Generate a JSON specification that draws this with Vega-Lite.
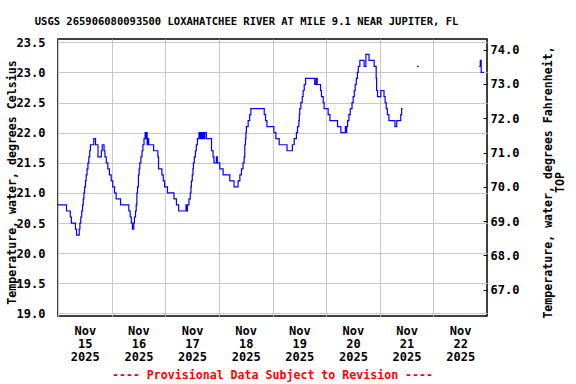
{
  "$schema": "https://vega.github.io/schema/vega-lite/v6.json",
  "width": 429,
  "height": 277,
  "autosize": {"type": "none"},
  "padding": {"left": 58, "top": 39, "right": 89, "bottom": 68},
  "background": "white",
  "config": {
    "font": "DejaVu Sans Mono",
    "view": {"stroke": "black", "strokeWidth": 1.5},
    "axis": {
      "labelFont": "DejaVu Sans Mono",
      "labelFontWeight": "bold",
      "labelFontSize": 12,
      "labelColor": "black",
      "titleFont": "DejaVu Sans Mono",
      "titleFontWeight": "bold",
      "titleFontSize": 11.6,
      "titleColor": "black",
      "gridColor": "#c8c8c8",
      "gridWidth": 1,
      "gridOpacity": 1,
      "domain": false
    }
  },
  "title": {
    "text": "USGS 265906080093500 LOXAHATCHEE RIVER AT MILE 9.1 NEAR JUPITER, FL",
    "font": "DejaVu Sans Mono",
    "fontSize": 10.5,
    "fontWeight": "bold",
    "color": "black",
    "anchor": "middle",
    "frame": "group",
    "dx": -26,
    "offset": 9
  },
  "datasets": {
    "temp": [
      {"time": "2025-11-15T00:00:00Z", "tempC": 20.8, "seg": "a"},
      {"time": "2025-11-15T03:48:00Z", "tempC": 20.7, "seg": "a"},
      {"time": "2025-11-15T05:30:00Z", "tempC": 20.6, "seg": "a"},
      {"time": "2025-11-15T06:00:00Z", "tempC": 20.5, "seg": "a"},
      {"time": "2025-11-15T07:48:00Z", "tempC": 20.4, "seg": "a"},
      {"time": "2025-11-15T08:18:00Z", "tempC": 20.3, "seg": "a"},
      {"time": "2025-11-15T09:30:00Z", "tempC": 20.4, "seg": "a"},
      {"time": "2025-11-15T09:48:00Z", "tempC": 20.5, "seg": "a"},
      {"time": "2025-11-15T10:12:00Z", "tempC": 20.6, "seg": "a"},
      {"time": "2025-11-15T10:36:00Z", "tempC": 20.7, "seg": "a"},
      {"time": "2025-11-15T11:00:00Z", "tempC": 20.8, "seg": "a"},
      {"time": "2025-11-15T11:18:00Z", "tempC": 20.9, "seg": "a"},
      {"time": "2025-11-15T11:36:00Z", "tempC": 21.0, "seg": "a"},
      {"time": "2025-11-15T11:54:00Z", "tempC": 21.1, "seg": "a"},
      {"time": "2025-11-15T12:18:00Z", "tempC": 21.2, "seg": "a"},
      {"time": "2025-11-15T12:36:00Z", "tempC": 21.3, "seg": "a"},
      {"time": "2025-11-15T13:00:00Z", "tempC": 21.4, "seg": "a"},
      {"time": "2025-11-15T13:24:00Z", "tempC": 21.5, "seg": "a"},
      {"time": "2025-11-15T13:48:00Z", "tempC": 21.6, "seg": "a"},
      {"time": "2025-11-15T14:12:00Z", "tempC": 21.7, "seg": "a"},
      {"time": "2025-11-15T14:30:00Z", "tempC": 21.8, "seg": "a"},
      {"time": "2025-11-15T16:00:00Z", "tempC": 21.9, "seg": "a"},
      {"time": "2025-11-15T16:48:00Z", "tempC": 21.8, "seg": "a"},
      {"time": "2025-11-15T17:54:00Z", "tempC": 21.6, "seg": "a"},
      {"time": "2025-11-15T19:24:00Z", "tempC": 21.7, "seg": "a"},
      {"time": "2025-11-15T19:48:00Z", "tempC": 21.8, "seg": "a"},
      {"time": "2025-11-15T20:36:00Z", "tempC": 21.7, "seg": "a"},
      {"time": "2025-11-15T21:00:00Z", "tempC": 21.6, "seg": "a"},
      {"time": "2025-11-15T21:36:00Z", "tempC": 21.5, "seg": "a"},
      {"time": "2025-11-15T22:18:00Z", "tempC": 21.4, "seg": "a"},
      {"time": "2025-11-15T23:00:00Z", "tempC": 21.3, "seg": "a"},
      {"time": "2025-11-15T23:48:00Z", "tempC": 21.2, "seg": "a"},
      {"time": "2025-11-16T00:30:00Z", "tempC": 21.1, "seg": "a"},
      {"time": "2025-11-16T01:18:00Z", "tempC": 21.0, "seg": "a"},
      {"time": "2025-11-16T02:00:00Z", "tempC": 20.9, "seg": "a"},
      {"time": "2025-11-16T04:00:00Z", "tempC": 20.8, "seg": "a"},
      {"time": "2025-11-16T07:42:00Z", "tempC": 20.7, "seg": "a"},
      {"time": "2025-11-16T08:18:00Z", "tempC": 20.6, "seg": "a"},
      {"time": "2025-11-16T08:48:00Z", "tempC": 20.5, "seg": "a"},
      {"time": "2025-11-16T09:18:00Z", "tempC": 20.4, "seg": "a"},
      {"time": "2025-11-16T09:54:00Z", "tempC": 20.5, "seg": "a"},
      {"time": "2025-11-16T10:12:00Z", "tempC": 20.6, "seg": "a"},
      {"time": "2025-11-16T10:42:00Z", "tempC": 20.7, "seg": "a"},
      {"time": "2025-11-16T11:00:00Z", "tempC": 20.8, "seg": "a"},
      {"time": "2025-11-16T11:18:00Z", "tempC": 21.0, "seg": "a"},
      {"time": "2025-11-16T11:36:00Z", "tempC": 21.1, "seg": "a"},
      {"time": "2025-11-16T12:00:00Z", "tempC": 21.3, "seg": "a"},
      {"time": "2025-11-16T12:18:00Z", "tempC": 21.4, "seg": "a"},
      {"time": "2025-11-16T12:36:00Z", "tempC": 21.5, "seg": "a"},
      {"time": "2025-11-16T13:06:00Z", "tempC": 21.6, "seg": "a"},
      {"time": "2025-11-16T13:36:00Z", "tempC": 21.7, "seg": "a"},
      {"time": "2025-11-16T14:00:00Z", "tempC": 21.8, "seg": "a"},
      {"time": "2025-11-16T14:30:00Z", "tempC": 21.9, "seg": "a"},
      {"time": "2025-11-16T15:00:00Z", "tempC": 22.0, "seg": "a"},
      {"time": "2025-11-16T15:18:00Z", "tempC": 21.9, "seg": "a"},
      {"time": "2025-11-16T15:36:00Z", "tempC": 22.0, "seg": "a"},
      {"time": "2025-11-16T15:54:00Z", "tempC": 21.8, "seg": "a"},
      {"time": "2025-11-16T16:12:00Z", "tempC": 21.9, "seg": "a"},
      {"time": "2025-11-16T16:36:00Z", "tempC": 21.8, "seg": "a"},
      {"time": "2025-11-16T18:48:00Z", "tempC": 21.7, "seg": "a"},
      {"time": "2025-11-16T20:42:00Z", "tempC": 21.6, "seg": "a"},
      {"time": "2025-11-16T21:00:00Z", "tempC": 21.4, "seg": "a"},
      {"time": "2025-11-16T22:30:00Z", "tempC": 21.3, "seg": "a"},
      {"time": "2025-11-16T23:06:00Z", "tempC": 21.2, "seg": "a"},
      {"time": "2025-11-16T23:42:00Z", "tempC": 21.1, "seg": "a"},
      {"time": "2025-11-17T01:00:00Z", "tempC": 21.0, "seg": "a"},
      {"time": "2025-11-17T03:54:00Z", "tempC": 20.9, "seg": "a"},
      {"time": "2025-11-17T05:00:00Z", "tempC": 20.8, "seg": "a"},
      {"time": "2025-11-17T06:00:00Z", "tempC": 20.7, "seg": "a"},
      {"time": "2025-11-17T09:18:00Z", "tempC": 20.8, "seg": "a"},
      {"time": "2025-11-17T09:36:00Z", "tempC": 20.7, "seg": "a"},
      {"time": "2025-11-17T09:54:00Z", "tempC": 20.8, "seg": "a"},
      {"time": "2025-11-17T10:36:00Z", "tempC": 20.9, "seg": "a"},
      {"time": "2025-11-17T11:12:00Z", "tempC": 21.0, "seg": "a"},
      {"time": "2025-11-17T11:30:00Z", "tempC": 21.1, "seg": "a"},
      {"time": "2025-11-17T11:42:00Z", "tempC": 21.2, "seg": "a"},
      {"time": "2025-11-17T12:06:00Z", "tempC": 21.3, "seg": "a"},
      {"time": "2025-11-17T12:24:00Z", "tempC": 21.4, "seg": "a"},
      {"time": "2025-11-17T12:36:00Z", "tempC": 21.5, "seg": "a"},
      {"time": "2025-11-17T13:00:00Z", "tempC": 21.6, "seg": "a"},
      {"time": "2025-11-17T13:30:00Z", "tempC": 21.7, "seg": "a"},
      {"time": "2025-11-17T13:54:00Z", "tempC": 21.8, "seg": "a"},
      {"time": "2025-11-17T14:24:00Z", "tempC": 21.9, "seg": "a"},
      {"time": "2025-11-17T15:06:00Z", "tempC": 22.0, "seg": "a"},
      {"time": "2025-11-17T15:30:00Z", "tempC": 21.9, "seg": "a"},
      {"time": "2025-11-17T15:54:00Z", "tempC": 22.0, "seg": "a"},
      {"time": "2025-11-17T16:24:00Z", "tempC": 21.9, "seg": "a"},
      {"time": "2025-11-17T16:54:00Z", "tempC": 22.0, "seg": "a"},
      {"time": "2025-11-17T17:24:00Z", "tempC": 21.9, "seg": "a"},
      {"time": "2025-11-17T17:42:00Z", "tempC": 22.0, "seg": "a"},
      {"time": "2025-11-17T18:24:00Z", "tempC": 21.9, "seg": "a"},
      {"time": "2025-11-17T20:42:00Z", "tempC": 21.7, "seg": "a"},
      {"time": "2025-11-17T21:24:00Z", "tempC": 21.6, "seg": "a"},
      {"time": "2025-11-17T21:48:00Z", "tempC": 21.5, "seg": "a"},
      {"time": "2025-11-17T22:54:00Z", "tempC": 21.6, "seg": "a"},
      {"time": "2025-11-17T23:18:00Z", "tempC": 21.5, "seg": "a"},
      {"time": "2025-11-18T00:24:00Z", "tempC": 21.4, "seg": "a"},
      {"time": "2025-11-18T01:54:00Z", "tempC": 21.3, "seg": "a"},
      {"time": "2025-11-18T04:54:00Z", "tempC": 21.2, "seg": "a"},
      {"time": "2025-11-18T06:48:00Z", "tempC": 21.1, "seg": "a"},
      {"time": "2025-11-18T08:36:00Z", "tempC": 21.2, "seg": "a"},
      {"time": "2025-11-18T09:24:00Z", "tempC": 21.3, "seg": "a"},
      {"time": "2025-11-18T10:06:00Z", "tempC": 21.4, "seg": "a"},
      {"time": "2025-11-18T10:48:00Z", "tempC": 21.5, "seg": "a"},
      {"time": "2025-11-18T11:18:00Z", "tempC": 21.6, "seg": "a"},
      {"time": "2025-11-18T11:36:00Z", "tempC": 21.8, "seg": "a"},
      {"time": "2025-11-18T11:54:00Z", "tempC": 21.9, "seg": "a"},
      {"time": "2025-11-18T12:06:00Z", "tempC": 22.0, "seg": "a"},
      {"time": "2025-11-18T12:18:00Z", "tempC": 22.1, "seg": "a"},
      {"time": "2025-11-18T13:06:00Z", "tempC": 22.2, "seg": "a"},
      {"time": "2025-11-18T13:48:00Z", "tempC": 22.3, "seg": "a"},
      {"time": "2025-11-18T14:18:00Z", "tempC": 22.4, "seg": "a"},
      {"time": "2025-11-18T20:18:00Z", "tempC": 22.3, "seg": "a"},
      {"time": "2025-11-18T20:54:00Z", "tempC": 22.2, "seg": "a"},
      {"time": "2025-11-18T21:30:00Z", "tempC": 22.1, "seg": "a"},
      {"time": "2025-11-19T00:36:00Z", "tempC": 22.0, "seg": "a"},
      {"time": "2025-11-19T01:30:00Z", "tempC": 21.9, "seg": "a"},
      {"time": "2025-11-19T03:00:00Z", "tempC": 21.8, "seg": "a"},
      {"time": "2025-11-19T06:30:00Z", "tempC": 21.7, "seg": "a"},
      {"time": "2025-11-19T08:54:00Z", "tempC": 21.8, "seg": "a"},
      {"time": "2025-11-19T09:42:00Z", "tempC": 21.9, "seg": "a"},
      {"time": "2025-11-19T10:42:00Z", "tempC": 22.0, "seg": "a"},
      {"time": "2025-11-19T11:12:00Z", "tempC": 22.1, "seg": "a"},
      {"time": "2025-11-19T11:48:00Z", "tempC": 22.2, "seg": "a"},
      {"time": "2025-11-19T12:00:00Z", "tempC": 22.3, "seg": "a"},
      {"time": "2025-11-19T12:12:00Z", "tempC": 22.4, "seg": "a"},
      {"time": "2025-11-19T12:42:00Z", "tempC": 22.5, "seg": "a"},
      {"time": "2025-11-19T13:18:00Z", "tempC": 22.6, "seg": "a"},
      {"time": "2025-11-19T13:42:00Z", "tempC": 22.7, "seg": "a"},
      {"time": "2025-11-19T14:12:00Z", "tempC": 22.8, "seg": "a"},
      {"time": "2025-11-19T14:48:00Z", "tempC": 22.9, "seg": "a"},
      {"time": "2025-11-19T18:54:00Z", "tempC": 22.8, "seg": "a"},
      {"time": "2025-11-19T19:30:00Z", "tempC": 22.9, "seg": "a"},
      {"time": "2025-11-19T20:00:00Z", "tempC": 22.8, "seg": "a"},
      {"time": "2025-11-19T21:30:00Z", "tempC": 22.7, "seg": "a"},
      {"time": "2025-11-19T21:54:00Z", "tempC": 22.6, "seg": "a"},
      {"time": "2025-11-19T22:42:00Z", "tempC": 22.5, "seg": "a"},
      {"time": "2025-11-19T23:06:00Z", "tempC": 22.4, "seg": "a"},
      {"time": "2025-11-20T00:54:00Z", "tempC": 22.3, "seg": "a"},
      {"time": "2025-11-20T01:42:00Z", "tempC": 22.2, "seg": "a"},
      {"time": "2025-11-20T05:06:00Z", "tempC": 22.1, "seg": "a"},
      {"time": "2025-11-20T06:36:00Z", "tempC": 22.0, "seg": "a"},
      {"time": "2025-11-20T08:36:00Z", "tempC": 22.1, "seg": "a"},
      {"time": "2025-11-20T08:54:00Z", "tempC": 22.0, "seg": "a"},
      {"time": "2025-11-20T09:12:00Z", "tempC": 22.1, "seg": "a"},
      {"time": "2025-11-20T09:36:00Z", "tempC": 22.2, "seg": "a"},
      {"time": "2025-11-20T10:12:00Z", "tempC": 22.3, "seg": "a"},
      {"time": "2025-11-20T10:48:00Z", "tempC": 22.4, "seg": "a"},
      {"time": "2025-11-20T11:36:00Z", "tempC": 22.5, "seg": "a"},
      {"time": "2025-11-20T12:06:00Z", "tempC": 22.6, "seg": "a"},
      {"time": "2025-11-20T12:36:00Z", "tempC": 22.7, "seg": "a"},
      {"time": "2025-11-20T13:00:00Z", "tempC": 22.8, "seg": "a"},
      {"time": "2025-11-20T13:30:00Z", "tempC": 22.9, "seg": "a"},
      {"time": "2025-11-20T14:00:00Z", "tempC": 23.0, "seg": "a"},
      {"time": "2025-11-20T14:24:00Z", "tempC": 23.1, "seg": "a"},
      {"time": "2025-11-20T15:06:00Z", "tempC": 23.2, "seg": "a"},
      {"time": "2025-11-20T17:00:00Z", "tempC": 23.1, "seg": "a"},
      {"time": "2025-11-20T17:48:00Z", "tempC": 23.3, "seg": "a"},
      {"time": "2025-11-20T19:12:00Z", "tempC": 23.2, "seg": "a"},
      {"time": "2025-11-20T21:30:00Z", "tempC": 23.1, "seg": "a"},
      {"time": "2025-11-20T22:24:00Z", "tempC": 22.9, "seg": "a"},
      {"time": "2025-11-20T22:36:00Z", "tempC": 22.7, "seg": "a"},
      {"time": "2025-11-20T23:00:00Z", "tempC": 22.6, "seg": "a"},
      {"time": "2025-11-21T00:30:00Z", "tempC": 22.7, "seg": "a"},
      {"time": "2025-11-21T01:54:00Z", "tempC": 22.6, "seg": "a"},
      {"time": "2025-11-21T02:24:00Z", "tempC": 22.5, "seg": "a"},
      {"time": "2025-11-21T02:54:00Z", "tempC": 22.4, "seg": "a"},
      {"time": "2025-11-21T03:24:00Z", "tempC": 22.3, "seg": "a"},
      {"time": "2025-11-21T04:06:00Z", "tempC": 22.2, "seg": "a"},
      {"time": "2025-11-21T06:48:00Z", "tempC": 22.1, "seg": "a"},
      {"time": "2025-11-21T07:36:00Z", "tempC": 22.2, "seg": "a"},
      {"time": "2025-11-21T09:24:00Z", "tempC": 22.3, "seg": "a"},
      {"time": "2025-11-21T09:48:00Z", "tempC": 22.4, "seg": "a"},
      {"time": "2025-11-21T10:12:00Z", "tempC": 22.4, "seg": "a"},
      {"time": "2025-11-21T16:42:00Z", "tempC": 23.1, "seg": "b"},
      {"time": "2025-11-21T17:24:00Z", "tempC": 23.1, "seg": "b"},
      {"time": "2025-11-22T20:30:00Z", "tempC": 23.1, "seg": "c"},
      {"time": "2025-11-22T21:00:00Z", "tempC": 23.2, "seg": "c"},
      {"time": "2025-11-22T21:24:00Z", "tempC": 23.0, "seg": "c"},
      {"time": "2025-11-22T22:36:00Z", "tempC": 23.0, "seg": "c"}
    ],
    "fdummy": [{"tempF": 70}]
  },
  "layer": [
    {
      "data": {"name": "temp"},
      "mark": {"type": "line", "interpolate": "step-after", "color": "#0000ff", "strokeWidth": 1.2, "clip": true},
      "encoding": {
        "x": {
          "field": "time",
          "type": "temporal",
          "scale": {"type": "utc", "domain": [{"year": 2025, "month": 11, "date": 15, "utc": true}, {"year": 2025, "month": 11, "date": 23, "utc": true}]},
          "axis": {
            "orient": "bottom",
            "values": [
              {"year": 2025, "month": 11, "date": 15, "utc": true},
              {"year": 2025, "month": 11, "date": 16, "utc": true},
              {"year": 2025, "month": 11, "date": 17, "utc": true},
              {"year": 2025, "month": 11, "date": 18, "utc": true},
              {"year": 2025, "month": 11, "date": 19, "utc": true},
              {"year": 2025, "month": 11, "date": 20, "utc": true},
              {"year": 2025, "month": 11, "date": 21, "utc": true},
              {"year": 2025, "month": 11, "date": 22, "utc": true}
            ],
            "labelExpr": "[utcFormat(datum.value, '%b'), utcFormat(datum.value, '%d'), utcFormat(datum.value, '%Y')]",
            "labelOffset": 26.8,
            "labelPadding": 9,
            "labelLineHeight": 13,
            "labelBaseline": "top",
            "labelAlign": "center",
            "labelOverlap": false,
            "labelBound": false,
            "labelFlush": false,
            "ticks": false,
            "grid": true,
            "title": "---- Provisional Data Subject to Revision ----",
            "titleColor": "#ff0000",
            "titleFontSize": 11.6,
            "titleX": 214,
            "titleY": 59,
            "titleBaseline": "middle",
            "titleAlign": "center"
          }
        },
        "y": {
          "field": "tempC",
          "type": "quantitative",
          "scale": {"domain": [18.957, 23.555], "nice": false, "zero": false},
          "axis": {
            "orient": "left",
            "values": [19, 19.5, 20, 20.5, 21, 21.5, 22, 22.5, 23, 23.5],
            "format": ".1f",
            "ticks": false,
            "labelPadding": 13,
            "grid": true,
            "title": "Temperature, water, degrees Celsius",
            "titleAngle": 270,
            "titleX": -46,
            "titleY": 143,
            "titleBaseline": "middle",
            "titleAlign": "center"
          }
        },
        "detail": {"field": "seg", "type": "nominal"}
      }
    },
    {
      "data": {"name": "fdummy"},
      "mark": {"type": "point", "opacity": 0},
      "encoding": {
        "y": {
          "field": "tempF",
          "type": "quantitative",
          "scale": {"domain": [66.233, 74.312], "nice": false, "zero": false},
          "axis": {
            "orient": "right",
            "values": [67, 68, 69, 70, 71, 72, 73, 74],
            "format": ".1f",
            "grid": false,
            "ticks": true,
            "tickSize": -4,
            "tickColor": "black",
            "tickWidth": 1,
            "labelPadding": 7,
            "title": ["Temperature, water, degrees Fahrenheit,", "TOP"],
            "titleAngle": 270,
            "titleX": 61,
            "titleY": 143,
            "titleBaseline": "middle",
            "titleAlign": "center",
            "titleLineHeight": 12
          }
        }
      }
    }
  ],
  "resolve": {"scale": {"y": "independent"}}
}
